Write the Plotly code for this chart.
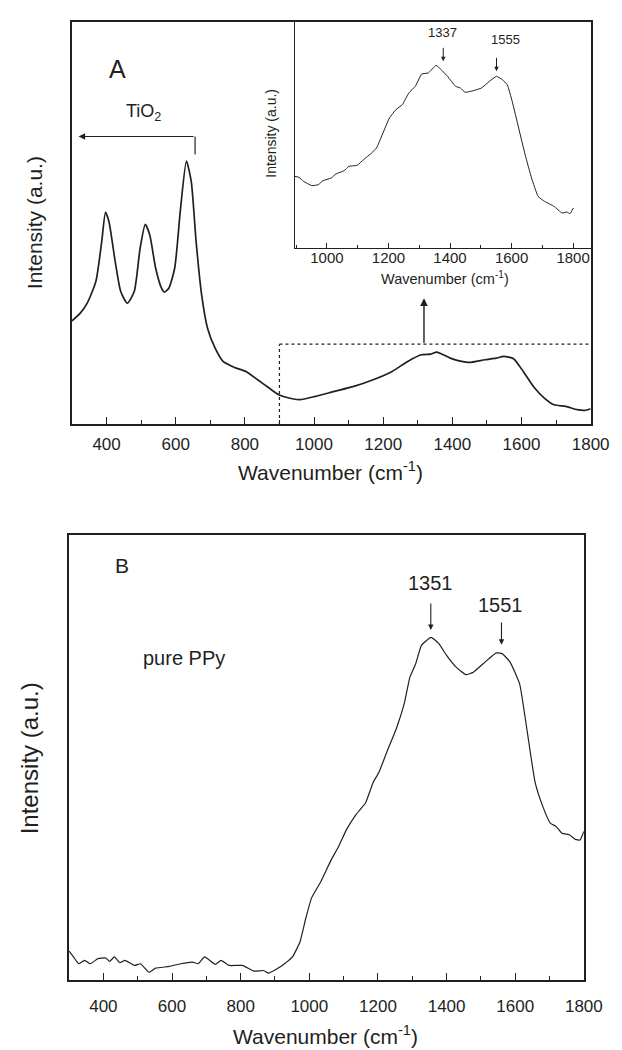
import plotly.graph_objects as go

# ---------------- Panel A (TiO2/PPy composite) ----------------
a_wavenumber = [300, 324, 344, 369, 386, 397, 407, 425, 441, 460, 480, 497, 512, 525, 542, 559, 567,
                580, 597, 614, 631, 645, 659, 675, 692, 714, 737, 770, 803, 837, 870, 898, 937, 959,
                1004, 1059, 1115, 1171, 1226, 1271, 1310, 1338, 1355, 1394, 1427, 1449, 1494, 1527,
                1549, 1577, 1605, 1638, 1666, 1694, 1728, 1761, 1783, 1800]
a_intensity = [31.0, 33.3, 36.3, 42.8, 54.8, 63.6, 60.8, 48.8, 39.8, 36.3, 39.8, 52.8, 60.0, 56.8,
               46.8, 40.8, 39.6, 40.8, 46.8, 64.8, 79.0, 72.8, 54.8, 38.8, 28.8, 22.8, 18.8, 17.0,
               15.8, 13.3, 10.8, 8.8, 7.6, 7.3, 8.3, 9.8, 11.3, 13.3, 15.8, 18.8, 20.8, 21.0, 21.6,
               19.8, 18.8, 18.5, 19.3, 19.8, 20.3, 19.6, 15.8, 10.8, 7.8, 5.8, 5.3, 4.3, 4.1, 4.6]

# ---------------- Inset of panel A ----------------
inset_wavenumber = [896, 909, 924, 951, 972, 987, 1014, 1029, 1056, 1071, 1098, 1119, 1145, 1161,
                    1182, 1203, 1224, 1245, 1266, 1287, 1308, 1329, 1355, 1371, 1392, 1418, 1434,
                    1449, 1476, 1502, 1528, 1551, 1570, 1586, 1602, 1623, 1644, 1665, 1686, 1707,
                    1738, 1764, 1780, 1790, 1801]
inset_intensity = [21.5, 21.2, 20.0, 18.7, 19.0, 20.2, 21.0, 22.2, 23.2, 24.5, 24.8, 26.5, 28.5,
                   30.0, 34.5, 39.0, 41.5, 43.0, 46.5, 48.5, 52.2, 52.5, 54.8, 53.5, 51.5, 48.5,
                   48.0, 46.7, 47.2, 48.0, 50.0, 51.5, 50.5, 49.0, 44.0, 36.0, 28.0, 21.0, 15.5,
                   14.0, 12.5, 10.5, 10.8, 10.3, 12.0]

# ---------------- Panel B (pure PPy) ----------------
b_wavenumber = [300, 313, 328, 345, 362, 384, 407, 418, 432, 448, 463, 491, 508, 533, 552, 592, 625,
                659, 676, 695, 726, 743, 766, 805, 839, 867, 881, 906, 928, 951, 973, 990, 1007,
                1035, 1063, 1085, 1108, 1136, 1164, 1186, 1203, 1226, 1254, 1276, 1293, 1310, 1327,
                1355, 1377, 1400, 1428, 1456, 1478, 1512, 1545, 1562, 1585, 1613, 1635, 1658, 1680,
                1702, 1719, 1736, 1759, 1775, 1789, 1800]
b_intensity = [8.5, 6.8, 4.8, 5.8, 4.8, 6.3, 6.5, 5.5, 6.8, 5.1, 5.8, 4.3, 4.8, 2.3, 3.5, 4.0, 4.8,
               5.3, 4.8, 6.8, 4.6, 5.8, 4.3, 4.3, 2.6, 2.8, 2.0, 3.3, 4.8, 6.8, 11.3, 18.3, 24.3,
               29.3, 35.3, 39.3, 44.3, 48.8, 52.3, 58.3, 61.3, 67.3, 74.3, 81.3, 89.3, 93.3, 98.8,
               101.1, 99.3, 95.8, 92.3, 90.1, 90.8, 93.8, 96.5, 96.3, 93.8, 87.3, 73.3, 58.3, 51.3,
               46.3, 45.3, 43.3, 42.8, 41.5, 41.3, 43.8]

tick_values = [400, 600, 800, 1000, 1200, 1400, 1600, 1800]
inset_tick_values = [1000, 1200, 1400, 1600, 1800]
peaks_inset = ["1337", "1555"]
peaks_b = ["1351", "1551"]

INK = "#231f20"
FONT = "Liberation Sans, Arial, sans-serif"
W, H = 622, 1050


def px(v, total):
    return v / total


fig = go.Figure()
fig.add_trace(go.Scatter(x=a_wavenumber, y=a_intensity, mode="lines", xaxis="x", yaxis="y",
                         line=dict(color=INK, width=1.7, shape="spline", smoothing=0.6),
                         showlegend=False))
fig.add_trace(go.Scatter(x=inset_wavenumber, y=inset_intensity, mode="lines", xaxis="x3", yaxis="y3",
                         line=dict(color=INK, width=1.0, shape="spline", smoothing=0.35),
                         showlegend=False))
fig.add_trace(go.Scatter(x=b_wavenumber, y=b_intensity, mode="lines", xaxis="x2", yaxis="y2",
                         line=dict(color=INK, width=1.2, shape="spline", smoothing=0.4),
                         showlegend=False))


def main_x(standoff):
    return dict(range=[300, 1800], showline=True, mirror=True, linecolor=INK, linewidth=1.6,
                ticks="inside", ticklen=7, tickwidth=1.2, tickcolor=INK,
                tickvals=tick_values, ticktext=[str(v) for v in tick_values],
                minor=dict(ticks="inside", ticklen=4, tickwidth=1.0, tickcolor=INK, dtick=100, tick0=0),
                tickfont=dict(family=FONT, size=17, color=INK), ticklabelstandoff=standoff,
                showgrid=False, zeroline=False, fixedrange=True)


main_y = dict(showline=True, mirror=True, linecolor=INK, linewidth=1.6, ticks="",
              showticklabels=False, showgrid=False, zeroline=False)

fig.update_layout(
    width=W, height=H, margin=dict(l=0, r=0, t=0, b=0),
    paper_bgcolor="white", plot_bgcolor="rgba(0,0,0,0)",
    font=dict(family=FONT, color=INK),
    xaxis=dict(main_x(4), domain=[px(66, W), px(601, W)], anchor="y"),
    yaxis=dict(main_y, domain=[1 - px(416, H), 1 - px(14, H)], range=[0, 120.8], anchor="x"),
    xaxis2=dict(main_x(10), domain=[px(63, W), px(594, W)], anchor="y2"),
    yaxis2=dict(main_y, domain=[1 - px(972, H), 1 - px(527, H)], range=[0, 131.3], anchor="x2"),
    xaxis3=dict(domain=[px(296, W), px(601, W)], anchor="y3", range=[896, 1857],
                showline=True, mirror=False, linecolor=INK, linewidth=1.2,
                ticks="inside", ticklen=5, tickwidth=1.0, tickcolor=INK,
                tickvals=inset_tick_values, ticktext=[str(v) for v in inset_tick_values],
                minor=dict(ticks="inside", ticklen=3, tickwidth=0.8, tickcolor=INK, dtick=100, tick0=0),
                tickfont=dict(family=FONT, size=15, color=INK), ticklabelstandoff=-4,
                showgrid=False, zeroline=False),
    yaxis3=dict(domain=[1 - px(240, H), 1 - px(14, H)], anchor="x3", range=[0, 67.8],
                showline=True, linecolor=INK, linewidth=1.2, ticks="", showticklabels=False,
                showgrid=False, zeroline=False),
)

C = dict(xanchor="center", yanchor="middle", showarrow=False)
ann = []
# axis titles
ann.append(dict(C, x=px(333, W), y=1 - px(463, H), xref="paper", yref="paper",
                text="Wavenumber (cm<sup>-1</sup>)", font=dict(size=21)))
ann.append(dict(C, x=px(28, W), y=1 - px(215, H), xref="paper", yref="paper", textangle=-90,
                text="Intensity (a.u.)", font=dict(size=21)))
ann.append(dict(C, x=px(328, W), y=1 - px(1027, H), xref="paper", yref="paper",
                text="Wavenumber (cm<sup>-1</sup>)", font=dict(size=21)))
ann.append(dict(C, x=px(22, W), y=1 - px(750, H), xref="paper", yref="paper", textangle=-90,
                text="Intensity (a.u.)", font=dict(size=24)))
ann.append(dict(C, x=px(451, W), y=1 - px(270, H), xref="paper", yref="paper",
                text="Wavenumber (cm<sup>-1</sup>)", font=dict(size=14.5)))
ann.append(dict(C, x=px(271, W), y=1 - px(125, H), xref="paper", yref="paper", textangle=-90,
                text="Intensity (a.u.)", font=dict(size=14)))

# panel A labels
ann.append(dict(C, x=432, y=106.8, xref="x", yref="y", text="A", font=dict(size=25)))
ann.append(dict(C, x=507, y=93.5, xref="x", yref="y", text="TiO<sub>2</sub>", font=dict(size=18)))
# TiO2 range arrow
ann.append(dict(x=319, y=86.4, ax=656, ay=86.4, xref="x", yref="y", axref="x", ayref="y",
                text="", showarrow=True, arrowhead=2, arrowsize=1.1, arrowwidth=1.2, arrowcolor=INK))
# zoom arrow to inset
ann.append(dict(x=1318, y=37.8, ax=1318, ay=24.0, xref="x", yref="y", axref="x", ayref="y",
                text="", showarrow=True, arrowhead=2, arrowsize=1.1, arrowwidth=1.4, arrowcolor=INK))

# inset peak labels
ann.append(dict(C, x=1375, y=64.5, xref="x3", yref="y3", text=peaks_inset[0], font=dict(size=13)))
ann.append(dict(x=1378, y=56.0, ax=1378, ay=60.5, xref="x3", yref="y3", axref="x3", ayref="y3",
                text="", showarrow=True, arrowhead=2, arrowsize=0.9, arrowwidth=1.0, arrowcolor=INK))
ann.append(dict(C, x=1580, y=62.5, xref="x3", yref="y3", text=peaks_inset[1], font=dict(size=13)))
ann.append(dict(x=1551, y=53.0, ax=1551, ay=57.5, xref="x3", yref="y3", axref="x3", ayref="y3",
                text="", showarrow=True, arrowhead=2, arrowsize=0.9, arrowwidth=1.0, arrowcolor=INK))

# panel B labels
ann.append(dict(C, x=455, y=122.2, xref="x2", yref="y2", text="B", font=dict(size=21)))
ann.append(dict(C, x=636, y=95.0, xref="x2", yref="y2", text="pure PPy", font=dict(size=20)))
ann.append(dict(C, x=1354, y=117.1, xref="x2", yref="y2", text=peaks_b[0], font=dict(size=20)))
ann.append(dict(x=1354, y=103.3, ax=1354, ay=111.5, xref="x2", yref="y2", axref="x2", ayref="y2",
                text="", showarrow=True, arrowhead=2, arrowsize=1.0, arrowwidth=1.1, arrowcolor=INK))
ann.append(dict(C, x=1557, y=110.7, xref="x2", yref="y2", text=peaks_b[1], font=dict(size=20)))
ann.append(dict(x=1560, y=98.9, ax=1560, ay=105.9, xref="x2", yref="y2", axref="x2", ayref="y2",
                text="", showarrow=True, arrowhead=2, arrowsize=1.0, arrowwidth=1.1, arrowcolor=INK))

fig.update_layout(annotations=ann)

shapes = [
    # TiO2 bracket end
    dict(type="line", xref="x", yref="y", x0=656, x1=656, y0=86.4, y1=81.0,
         line=dict(color=INK, width=1.2)),
    # dotted zoom box
    dict(type="line", xref="x", yref="y", x0=900, x1=900, y0=0, y1=24.0,
         line=dict(color=INK, width=1.2, dash="dot")),
    dict(type="line", xref="x", yref="y", x0=900, x1=1800, y0=24.0, y1=24.0,
         line=dict(color=INK, width=1.2, dash="dot")),
]
fig.update_layout(shapes=shapes)

fig.write_html("out.html")
